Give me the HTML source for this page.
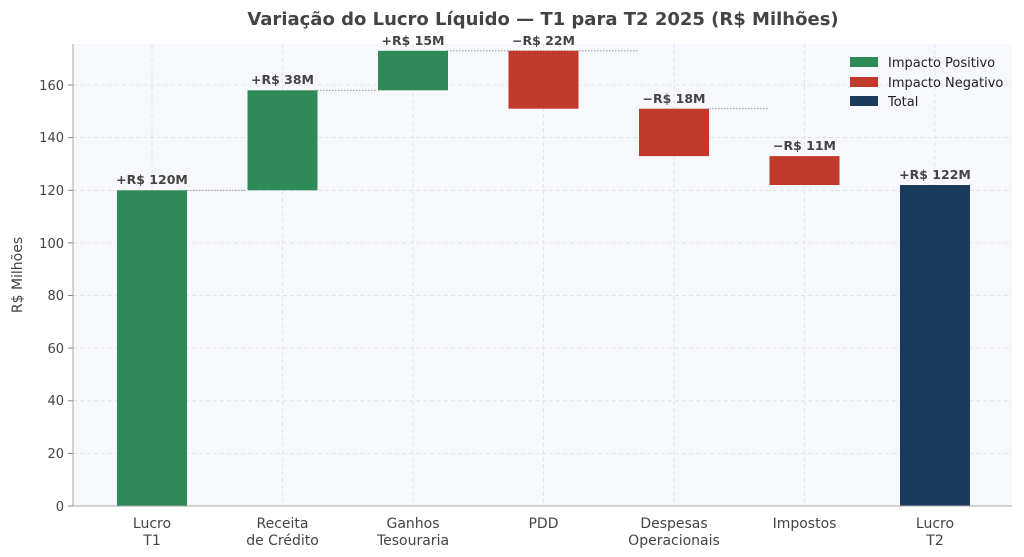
<!DOCTYPE html><html><head><meta charset="utf-8"><style>body{margin:0;background:#fff}svg{display:block;font-family:"DejaVu Sans","Liberation Sans",sans-serif}</style></head><body>
<svg width="1024" height="557" viewBox="0 0 1024 557">
<rect width="1024" height="557" fill="#fff"/>
<rect x="73" y="44" width="939" height="462" fill="#f7f8fc"/>
<g stroke="#dcdce4" stroke-dasharray="4,3" stroke-width="0.8">
<line x1="73" x2="1012" y1="453.4" y2="453.4"/><line x1="73" x2="1012" y1="400.8" y2="400.8"/><line x1="73" x2="1012" y1="348.1" y2="348.1"/><line x1="73" x2="1012" y1="295.5" y2="295.5"/><line x1="73" x2="1012" y1="242.9" y2="242.9"/><line x1="73" x2="1012" y1="190.3" y2="190.3"/><line x1="73" x2="1012" y1="137.6" y2="137.6"/><line x1="73" x2="1012" y1="85" y2="85"/>
<line x1="152" x2="152" y1="44" y2="506"/><line x1="282.5" x2="282.5" y1="44" y2="506"/><line x1="413" x2="413" y1="44" y2="506"/><line x1="543.5" x2="543.5" y1="44" y2="506"/><line x1="674" x2="674" y1="44" y2="506"/><line x1="804.5" x2="804.5" y1="44" y2="506"/><line x1="935" x2="935" y1="44" y2="506"/>
</g>
<g stroke="#888" stroke-dasharray="1.5,1.5" stroke-width="0.8">
<line x1="187" x2="247" y1="190.3" y2="190.3"/><line x1="317" x2="377" y1="90.3" y2="90.3"/><line x1="447" x2="638" y1="50.8" y2="50.8"/><line x1="709" x2="768" y1="108.7" y2="108.7"/>
</g>
<rect x="117" y="190.3" width="70" height="315.7" fill="#2e8b57"/>
<rect x="247.5" y="90.3" width="70" height="100" fill="#2e8b57"/>
<rect x="378" y="50.8" width="70" height="39.5" fill="#2e8b57"/>
<rect x="508.5" y="50.8" width="70" height="57.9" fill="#c0392b"/>
<rect x="639" y="108.7" width="70" height="47.4" fill="#c0392b"/>
<rect x="769.5" y="156.1" width="70" height="28.9" fill="#c0392b"/>
<rect x="900" y="185" width="70" height="321" fill="#1a3a5c"/>
<g stroke="#aaa" stroke-width="1"><line x1="73" y1="44" x2="73" y2="506"/><line x1="73" y1="506" x2="1012" y2="506"/></g>
<g font-size="12.5" font-weight="bold" fill="#444" text-anchor="middle">
<text x="152" y="184">+R$ 120M</text><text x="282.5" y="84">+R$ 38M</text><text x="413" y="45">+R$ 15M</text><text x="543.5" y="45">−R$ 22M</text><text x="674" y="103">−R$ 18M</text><text x="804.5" y="150">−R$ 11M</text><text x="935" y="179">+R$ 122M</text>
</g>
<g font-size="13" fill="#444" text-anchor="end">
<text x="64" y="511">0</text><text x="64" y="458">20</text><text x="64" y="405">40</text><text x="64" y="353">60</text><text x="64" y="300">80</text><text x="64" y="248">100</text><text x="64" y="195">120</text><text x="64" y="142">140</text><text x="64" y="90">160</text>
</g>
<g stroke="#888"><line x1="68" x2="73" y1="506" y2="506"/><line x1="68" x2="73" y1="453.4" y2="453.4"/><line x1="68" x2="73" y1="400.8" y2="400.8"/><line x1="68" x2="73" y1="348.1" y2="348.1"/><line x1="68" x2="73" y1="295.5" y2="295.5"/><line x1="68" x2="73" y1="242.9" y2="242.9"/><line x1="68" x2="73" y1="190.3" y2="190.3"/><line x1="68" x2="73" y1="137.6" y2="137.6"/><line x1="68" x2="73" y1="85" y2="85"/></g>
<g font-size="14" fill="#444" text-anchor="middle">
<text x="152" y="528">Lucro</text><text x="152" y="545">T1</text>
<text x="282.5" y="528">Receita</text><text x="282.5" y="545">de Crédito</text>
<text x="413" y="528">Ganhos</text><text x="413" y="545">Tesouraria</text>
<text x="543.5" y="528">PDD</text>
<text x="674" y="528">Despesas</text><text x="674" y="545">Operacionais</text>
<text x="804.5" y="528">Impostos</text>
<text x="935" y="528">Lucro</text><text x="935" y="545">T2</text>
</g>
<text x="22" y="275" font-size="14" fill="#444" text-anchor="middle" transform="rotate(-90 22 275)">R$ Milhões</text>
<text x="543" y="25" font-size="18" font-weight="bold" fill="#444" text-anchor="middle">Variação do Lucro Líquido — T1 para T2 2025 (R$ Milhões)</text>
<g font-size="13" fill="#222">
<rect x="850" y="57" width="28" height="10" fill="#2e8b57"/><text x="888" y="67">Impacto Positivo</text>
<rect x="850" y="77" width="28" height="10" fill="#c0392b"/><text x="888" y="87">Impacto Negativo</text>
<rect x="850" y="96" width="28" height="10" fill="#1a3a5c"/><text x="888" y="106">Total</text>
</g>
</svg></body></html>
